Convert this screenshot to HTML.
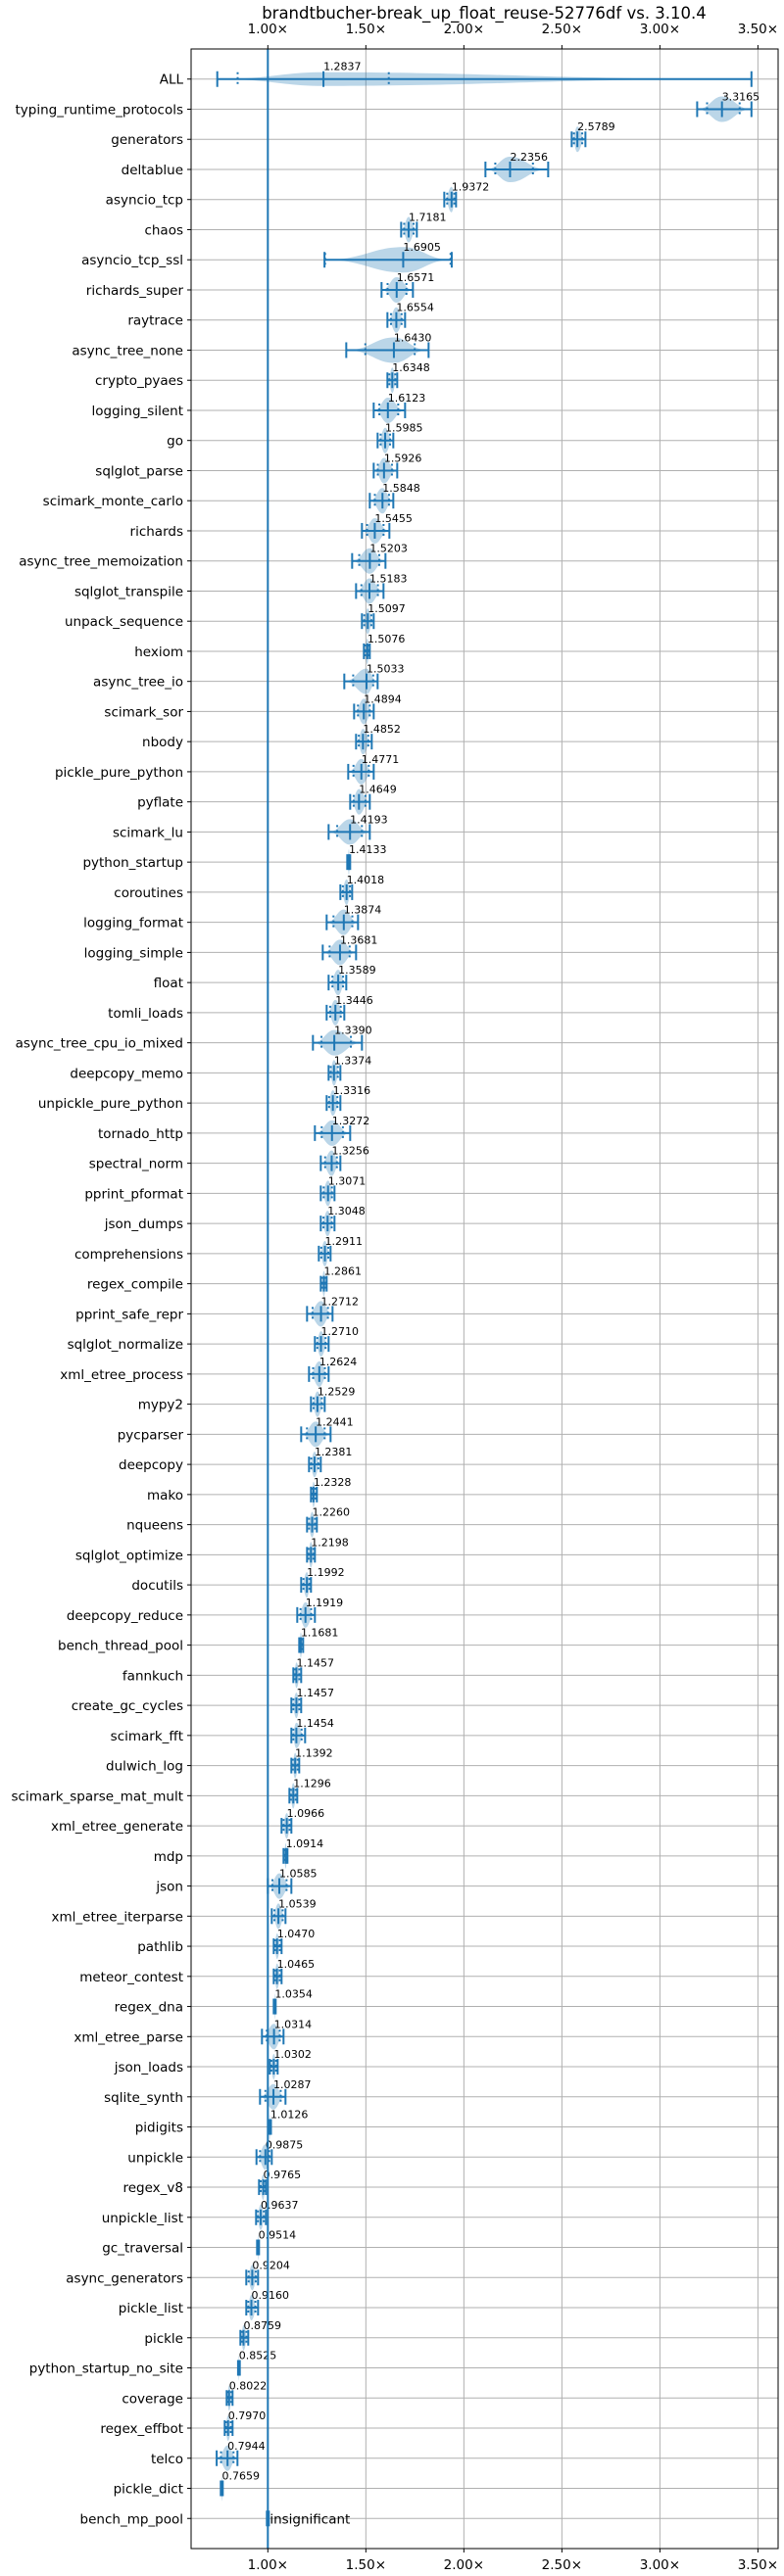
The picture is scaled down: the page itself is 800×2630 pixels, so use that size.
<!DOCTYPE html>
<html><head><meta charset="utf-8"><style>
html,body{margin:0;padding:0;background:#fff}
svg{display:block;font-family:"DejaVu Sans","Liberation Sans",sans-serif}
</style></head><body>
<svg id="chart" width="800" height="2630" viewBox="0 0 800 2630" xmlns="http://www.w3.org/2000/svg">
<text x="494" y="19" font-size="16.5" text-anchor="middle" fill="#000">brandtbucher-break_up_float_reuse-52776df vs. 3.10.4</text>
<g id="grid"></g>
<g id="marks"></g>
<g id="axes"></g>
</svg>
<script>
const categories = ["ALL","typing_runtime_protocols","generators","deltablue","asyncio_tcp","chaos","asyncio_tcp_ssl","richards_super","raytrace","async_tree_none","crypto_pyaes","logging_silent","go","sqlglot_parse","scimark_monte_carlo","richards","async_tree_memoization","sqlglot_transpile","unpack_sequence","hexiom","async_tree_io","scimark_sor","nbody","pickle_pure_python","pyflate","scimark_lu","python_startup","coroutines","logging_format","logging_simple","float","tomli_loads","async_tree_cpu_io_mixed","deepcopy_memo","unpickle_pure_python","tornado_http","spectral_norm","pprint_pformat","json_dumps","comprehensions","regex_compile","pprint_safe_repr","sqlglot_normalize","xml_etree_process","mypy2","pycparser","deepcopy","mako","nqueens","sqlglot_optimize","docutils","deepcopy_reduce","bench_thread_pool","fannkuch","create_gc_cycles","scimark_fft","dulwich_log","scimark_sparse_mat_mult","xml_etree_generate","mdp","json","xml_etree_iterparse","pathlib","meteor_contest","regex_dna","xml_etree_parse","json_loads","sqlite_synth","pidigits","unpickle","regex_v8","unpickle_list","gc_traversal","async_generators","pickle_list","pickle","python_startup_no_site","coverage","regex_effbot","telco","pickle_dict","bench_mp_pool"];
const medians = [1.2837,3.3165,2.5789,2.2356,1.9372,1.7181,1.6905,1.6571,1.6554,1.6430,1.6348,1.6123,1.5985,1.5926,1.5848,1.5455,1.5203,1.5183,1.5097,1.5076,1.5033,1.4894,1.4852,1.4771,1.4649,1.4193,1.4133,1.4018,1.3874,1.3681,1.3589,1.3446,1.3390,1.3374,1.3316,1.3272,1.3256,1.3071,1.3048,1.2911,1.2861,1.2712,1.2710,1.2624,1.2529,1.2441,1.2381,1.2328,1.2260,1.2198,1.1992,1.1919,1.1681,1.1457,1.1457,1.1454,1.1392,1.1296,1.0966,1.0914,1.0585,1.0539,1.0470,1.0465,1.0354,1.0314,1.0302,1.0287,1.0126,0.9875,0.9765,0.9637,0.9514,0.9204,0.9160,0.8759,0.8525,0.8022,0.7970,0.7944,0.7659,1.0];
const mins = [0.742,3.19,2.55,2.11,1.90,1.68,1.289,1.58,1.61,1.40,1.61,1.54,1.56,1.54,1.52,1.48,1.43,1.45,1.48,1.49,1.39,1.44,1.45,1.41,1.42,1.31,1.405,1.37,1.30,1.28,1.31,1.30,1.23,1.31,1.30,1.24,1.27,1.27,1.27,1.26,1.27,1.20,1.24,1.21,1.22,1.17,1.21,1.22,1.20,1.20,1.17,1.15,1.16,1.13,1.12,1.12,1.12,1.11,1.07,1.08,1.00,1.02,1.03,1.03,1.03,0.97,1.01,0.96,1.008,0.942,0.955,0.94,0.945,0.89,0.89,0.86,0.848,0.79,0.78,0.739,0.76,0.995];
const maxs = [3.467,3.467,2.62,2.43,1.96,1.76,1.938,1.74,1.70,1.82,1.66,1.70,1.64,1.66,1.64,1.62,1.60,1.59,1.54,1.52,1.56,1.54,1.53,1.54,1.52,1.52,1.42,1.43,1.46,1.45,1.40,1.39,1.48,1.37,1.37,1.42,1.37,1.34,1.34,1.32,1.30,1.33,1.31,1.31,1.29,1.32,1.27,1.25,1.25,1.24,1.22,1.24,1.18,1.17,1.17,1.19,1.16,1.15,1.12,1.10,1.12,1.09,1.07,1.07,1.04,1.08,1.05,1.09,1.016,1.02,0.99,0.99,0.955,0.95,0.95,0.90,0.857,0.82,0.82,0.845,0.77,1.005];
const quartileOverrideNames = ["ALL","asyncio_tcp_ssl"];
const quartileOverrideLow = [0.846,1.292];
const quartileOverrideHigh = [1.617,1.932];
const valueLabels = ["1.2837","3.3165","2.5789","2.2356","1.9372","1.7181","1.6905","1.6571","1.6554","1.6430","1.6348","1.6123","1.5985","1.5926","1.5848","1.5455","1.5203","1.5183","1.5097","1.5076","1.5033","1.4894","1.4852","1.4771","1.4649","1.4193","1.4133","1.4018","1.3874","1.3681","1.3589","1.3446","1.3390","1.3374","1.3316","1.3272","1.3256","1.3071","1.3048","1.2911","1.2861","1.2712","1.2710","1.2624","1.2529","1.2441","1.2381","1.2328","1.2260","1.2198","1.1992","1.1919","1.1681","1.1457","1.1457","1.1454","1.1392","1.1296","1.0966","1.0914","1.0585","1.0539","1.0470","1.0465","1.0354","1.0314","1.0302","1.0287","1.0126","0.9875","0.9765","0.9637","0.9514","0.9204","0.9160","0.8759","0.8525","0.8022","0.7970","0.7944","0.7659","insignificant"];
const tickValues = [1.0,1.5,2.0,2.5,3.0,3.5];
const tickLabels = ["1.00×","1.50×","2.00×","2.50×","3.00×","3.50×"];

const L=195, R=794, T=50, B=2602;
const xmin=0.6085, xmax=3.603;
const X = v => L + (v - xmin) / (xmax - xmin) * (R - L);
const n = categories.length;
const Y = i => T + (i + 1) * (B - T) / (n + 1);
const NS="http://www.w3.org/2000/svg";
function mk(tag, attrs, parent){const e=document.createElementNS(NS,tag);for(const k in attrs)e.setAttribute(k,attrs[k]);parent.appendChild(e);return e;}
const grid=document.getElementById('grid'), marks=document.getElementById('marks'), axes=document.getElementById('axes');
const BLUE="#1f77b4";

tickValues.forEach((t,k)=>{
  const g=mk('line',{x1:X(t),x2:X(t),y1:T,y2:B,stroke:"#b0b0b0","stroke-width":1},grid);
  
  
});
categories.forEach((c,i)=>{
  const g=mk('line',{x1:L,x2:R,y1:Y(i),y2:Y(i),stroke:"#b0b0b0","stroke-width":1},grid);
  
  
});

categories.forEach((c,i)=>{
  const y=Y(i), a=X(mins[i]), b=X(maxs[i]), m=X(medians[i]);
  const g=mk('g',{},marks);
  
  
  const h = (c==="ALL") ? 7 : 13;
  const p=`M${a},${y} C${a+(m-a)*0.5},${y} ${m-(m-a)*0.4},${y-h} ${m},${y-h} C${m+(b-m)*0.4},${y-h} ${b-(b-m)*0.5},${y} ${b},${y} C${b-(b-m)*0.5},${y} ${m+(b-m)*0.4},${y+h} ${m},${y+h} C${m-(m-a)*0.4},${y+h} ${a+(m-a)*0.5},${y} ${a},${y} Z`;
  const body=mk('path',{d:p,fill:BLUE,"fill-opacity":0.3},g);
  
  
  const ln=mk('line',{x1:a,x2:b,y1:y,y2:y,stroke:BLUE,"stroke-width":2},g);
  
  
  [a,b].forEach(x=>{
    const cap=mk('line',{x1:x,x2:x,y1:y-8,y2:y+8,stroke:BLUE,"stroke-width":2},g);
    
    
  });
  const med=mk('line',{x1:m,x2:m,y1:y-8,y2:y+8,stroke:BLUE,"stroke-width":2},g);
  
  
  let q1=m-(m-a)*0.6, q3=m+(b-m)*0.6;
  const oi=quartileOverrideNames.indexOf(c);
  if(oi>=0){q1=X(quartileOverrideLow[oi]);q3=X(quartileOverrideHigh[oi]);}
  [q1,q3].forEach(x=>{
    const q=mk('line',{x1:x,x2:x,y1:y-7,y2:y+7,stroke:BLUE,"stroke-width":2,"stroke-dasharray":"2,3"},g);
    
    
  });
  const isIns = valueLabels[i]==="insignificant";
  const t=mk('text',{x:m+(isIns?2:0),y:isIns?y+5:y-9,"font-size":isIns?13.5:11,fill:"#000"},g);
  t.textContent=valueLabels[i];
  
  
});

const base=mk('line',{x1:X(1),x2:X(1),y1:T,y2:B,stroke:BLUE,"stroke-width":2},axes);



const fr=mk('rect',{x:L,y:T,width:R-L,height:B-T,fill:"none",stroke:"#000","stroke-width":1},axes);



tickValues.forEach((t,k)=>{
  [[T,-1,34],[B,1,2623]].forEach(([yy,dir,ty])=>{
    const tk=mk('line',{x1:X(t),x2:X(t),y1:yy,y2:yy+dir*4,stroke:"#000","stroke-width":1},axes);
    
    
    const tl=mk('text',{x:X(t),y:ty,"font-size":13.5,"text-anchor":"middle",fill:"#000"},axes);
    tl.textContent=tickLabels[k];
    
    
  });
});

categories.forEach((c,i)=>{
  const tk=mk('line',{x1:L-4,x2:L,y1:Y(i),y2:Y(i),stroke:"#000","stroke-width":1},axes);
  
  
  const tl=mk('text',{x:L-8,y:Y(i)+5,"font-size":13.5,"text-anchor":"end",fill:"#000"},axes);
  tl.textContent=c;
  
  
});
</script>
</body></html>
